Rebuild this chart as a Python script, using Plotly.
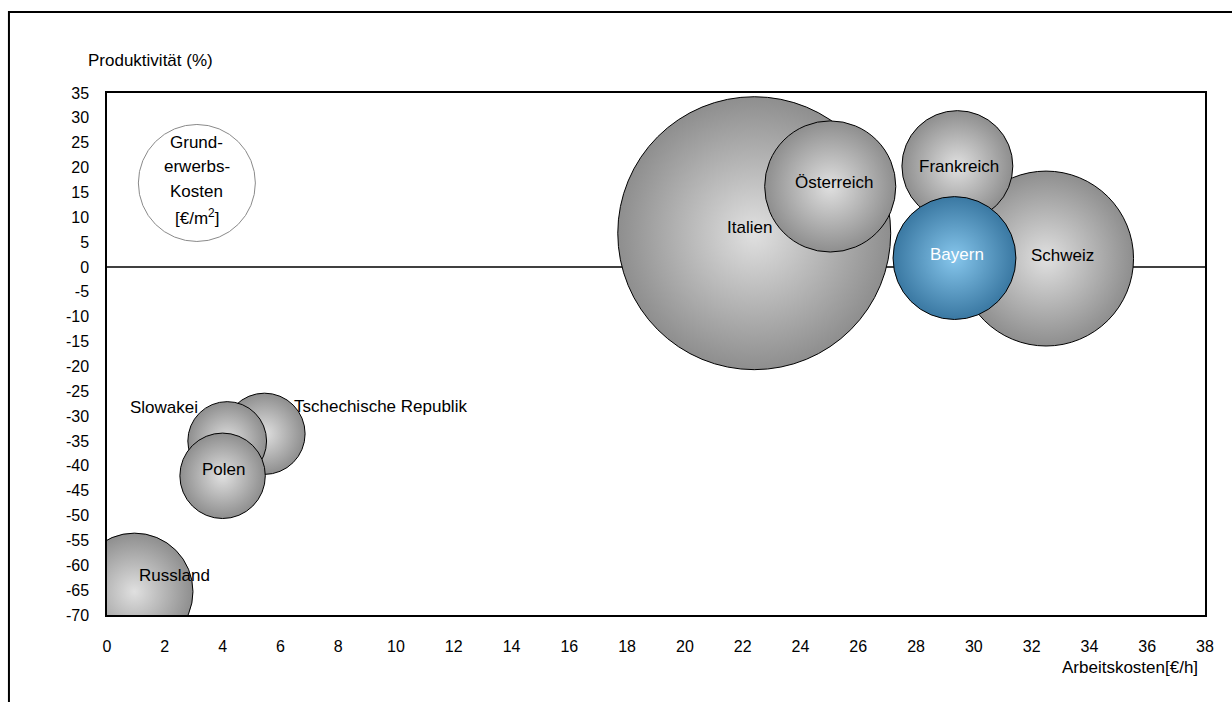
import plotly.graph_objects as go

# ---------------- data ----------------
laender = ["Russland", "Tschechische Republik", "Slowakei", "Polen",
           "Italien", "Schweiz", "Österreich", "Frankreich", "Bayern"]
arbeitskosten = [0.95, 5.45, 4.16, 4.0, 22.4, 32.5, 25.03, 29.43, 29.33]      # €/h
produktivitaet = [-65.3, -33.55, -35.0, -42.0, 6.8, 1.7, 16.2, 20.3, 1.8]      # %
grunderwerbskosten = [137, 66, 62, 73, 745, 306, 172, 123, 151]                 # €/m² (relative bubble size)

x_ticks = list(range(0, 39, 2))
y_ticks = list(range(-70, 36, 5))
y_ticklabels = [str(v) for v in y_ticks]   # plain hyphen minus as in the original

# ---------------- styles ----------------
FONT = "Liberation Sans, Arial, sans-serif"
LBL = 17
gray_edge, gray_center = "#8e8e8e", "#e0e0e0"
blue_edge, blue_center = "#3a78a2", "#86c6ec"
edge_colors = [blue_edge if n == "Bayern" else gray_edge for n in laender]
center_colors = [blue_center if n == "Bayern" else gray_center for n in laender]

# label offsets (pixels) relative to bubble centre, and anchor
label_style = {
    "Russland": (3, 16, "left", "black"),
    "Tschechische Republik": (28, 27, "left", "black"),
    "Slowakei": (-27, 34, "right", "black"),
    "Polen": (1, 6, "center", "black"),
    "Italien": (-5, 6, "center", "black"),
    "Schweiz": (16, 3, "center", "black"),
    "Österreich": (4, 4, "center", "black"),
    "Frankreich": (2, 0, "center", "black"),
    "Bayern": (3, 4, "center", "white"),
}

fig = go.Figure()
fig.add_trace(go.Scatter(
    x=arbeitskosten, y=produktivitaet, mode="markers",
    marker=dict(
        size=grunderwerbskosten, sizemode="area", sizeref=0.02,
        color=edge_colors,
        gradient=dict(type="radial", color=center_colors),
        line=dict(color="black", width=1),
        opacity=1,
    ),
    hovertext=laender, hoverinfo="text+x+y",
    cliponaxis=True, showlegend=False,
))

annotations = []
for n, xv, yv in zip(laender, arbeitskosten, produktivitaet):
    dx, dy, anchor, col = label_style[n]
    annotations.append(dict(x=xv, y=yv, xref="x", yref="y", text=n, showarrow=False,
                            xshift=dx, yshift=dy, xanchor=anchor, yanchor="middle",
                            font=dict(family=FONT, size=LBL, color=col)))

# key circle "Grunderwerbs-Kosten"
key_x, key_y = 3.11, 16.9
key_lines = ["Grund-", "erwerbs-", "Kosten", "[€/m<sup>2</sup>]"]
key_shifts = [40, 16, -9, -34]
for t, s in zip(key_lines, key_shifts):
    annotations.append(dict(x=key_x, y=key_y, xref="x", yref="y", text=t, showarrow=False,
                            yshift=s, xanchor="center", yanchor="middle",
                            font=dict(family=FONT, size=LBL, color="black")))

# axis titles
annotations.append(dict(x=-0.019, y=1.063, xref="paper", yref="paper", text="Produktivität (%)",
                        showarrow=False, xanchor="left", yanchor="middle",
                        font=dict(family=FONT, size=LBL, color="black")))
annotations.append(dict(x=0.9954, y=-0.1015, xref="paper", yref="paper", text="Arbeitskosten[€/h]",
                        showarrow=False, xanchor="right", yanchor="middle",
                        font=dict(family=FONT, size=LBL, color="black")))

shapes = [
    # key circle
    dict(type="circle", xref="x", yref="y", xsizemode="pixel", ysizemode="pixel",
         xanchor=key_x, yanchor=key_y, x0=-58.5, x1=58.5, y0=-58.5, y1=58.5,
         line=dict(color="#8a8a8a", width=1), fillcolor="white", layer="below"),
    # outer chart frame
    dict(type="rect", xref="paper", yref="paper", x0=-0.0893, x1=1.2, y0=-0.5, y1=1.155,
         line=dict(color="black", width=2), fillcolor="rgba(0,0,0,0)"),
]

fig.update_layout(
    width=1232, height=702,
    margin=dict(l=107, r=27, t=93, b=87, pad=0),
    paper_bgcolor="white", plot_bgcolor="white",
    font=dict(family=FONT, size=16, color="black"),
    annotations=annotations, shapes=shapes,
    showlegend=False,
)
fig.update_xaxes(range=[0, 38], tickvals=x_ticks, showgrid=False, zeroline=False,
                 showline=True, mirror=True, linecolor="black", linewidth=1.5,
                 ticks="", ticklabelstandoff=16, tickfont=dict(family=FONT, size=16, color="black"))
fig.update_yaxes(range=[-70, 35], tickvals=y_ticks, ticktext=y_ticklabels, showgrid=False,
                 zeroline=True, zerolinecolor="#404040", zerolinewidth=1.5,
                 showline=True, mirror=True, linecolor="black", linewidth=1.5,
                 ticks="", ticklabelstandoff=13, tickfont=dict(family=FONT, size=16, color="black"))

fig.write_html("out.html", config={"displayModeBar": False},
               post_script="document.body.style.margin='0';")
